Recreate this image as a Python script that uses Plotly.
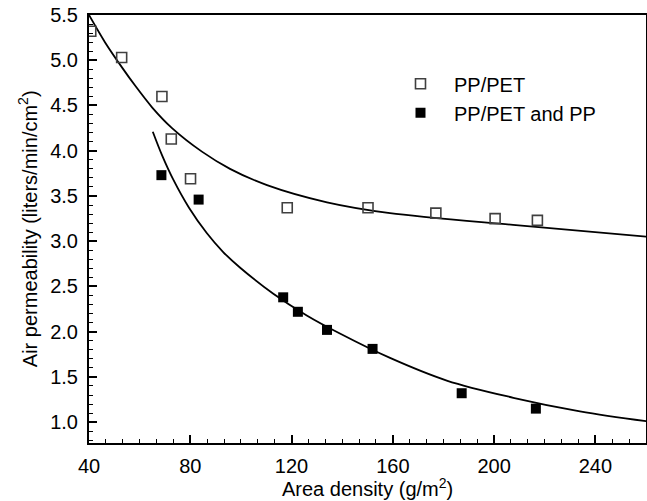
import plotly.graph_objects as go

# Measured points
pp_pet_x = [40.7, 52.9, 68.8, 72.5, 80.1, 118.3, 150.2, 177.0, 200.4, 217.1]
pp_pet_y = [5.32, 5.03, 4.60, 4.13, 3.69, 3.37, 3.37, 3.31, 3.25, 3.23]

pp_pet_pp_x = [68.6, 83.3, 116.7, 122.5, 134.0, 152.0, 187.2, 216.5]
pp_pet_pp_y = [3.73, 3.46, 2.38, 2.22, 2.02, 1.81, 1.32, 1.15]

# Fit curves
fit1_x = [40.0, 46.3, 53.3, 58.2, 64.9, 72.8, 84.6, 95.7, 110.3, 134.0, 158.9, 207.5, 260.4]
fit1_y = [5.50, 5.20, 4.91, 4.72, 4.48, 4.25, 3.99, 3.80, 3.62, 3.43, 3.31, 3.18, 3.05]

fit2_x = [65.2, 69.0, 73.3, 79.5, 86.5, 93.0, 99.6, 112.8, 126.0, 139.1, 158.9, 181.3, 207.6, 233.9, 260.3]
fit2_y = [4.21, 3.94, 3.68, 3.37, 3.09, 2.88, 2.71, 2.42, 2.18, 1.98, 1.71, 1.46, 1.27, 1.12, 1.01]

x_ticks = [40, 80, 120, 160, 200, 240]
y_ticks = [1.0, 1.5, 2.0, 2.5, 3.0, 3.5, 4.0, 4.5, 5.0, 5.5]

FONT = "Liberation Sans, Arial, sans-serif"
FS = 20

fig = go.Figure()
fig.add_trace(go.Scatter(x=fit1_x, y=fit1_y, mode="lines", line=dict(color="black", width=1.8, shape="spline", smoothing=0.8),
                         showlegend=False, hoverinfo="skip"))
fig.add_trace(go.Scatter(x=fit2_x, y=fit2_y, mode="lines", line=dict(color="black", width=1.8, shape="spline", smoothing=1.0),
                         showlegend=False, hoverinfo="skip"))
fig.add_trace(go.Scatter(x=pp_pet_x, y=pp_pet_y, mode="markers", name="PP/PET", legendgroup="a",
                         marker=dict(symbol="square-open", size=10, color="#404040", line=dict(width=1.6, color="#404040"))))
fig.add_trace(go.Scatter(x=pp_pet_pp_x, y=pp_pet_pp_y, mode="markers", name="PP/PET and PP", legendgroup="b",
                         marker=dict(symbol="square", size=10, color="black")))

fig.update_layout(
    width=647, height=501,
    margin=dict(l=89, r=1, t=15, b=58),
    paper_bgcolor="white", plot_bgcolor="white",
    font=dict(family=FONT, size=FS, color="black"),
    legend=dict(x=0.535, y=0.885, xanchor="left", yanchor="top", bgcolor="rgba(0,0,0,0)",
                font=dict(size=FS), tracegroupgap=0, traceorder="grouped", itemwidth=57),
    xaxis=dict(range=[40, 260], tickvals=x_ticks, ticks="inside", ticklen=8, tickwidth=1.5, tickcolor="black",
               showline=True, linecolor="black", linewidth=2, mirror=True, showgrid=False, zeroline=False,
               automargin=False, ticklabelstandoff=4,
               minor=dict(ticks="inside", dtick=40/6, tick0=40, ticklen=4, tickwidth=1.2, tickcolor="black")),
    yaxis=dict(range=[0.77, 5.5], tickvals=y_ticks, tickformat=".1f", ticks="inside", ticklen=8, tickwidth=1.5, tickcolor="black",
               showline=True, linecolor="black", linewidth=2, mirror=True, showgrid=False, zeroline=False,
               automargin=False, ticklabelstandoff=5,
               minor=dict(ticks="inside", dtick=0.1, tick0=1.0, ticklen=4, tickwidth=1.2, tickcolor="black")),
    annotations=[
        dict(text="Area density (g/m<sup>2</sup>)", xref="paper", yref="paper", x=0.5, y=-0.105,
             xanchor="center", yanchor="middle", showarrow=False, font=dict(size=FS)),
        dict(text="Air permeability (liters/min/cm<sup>2</sup>)", xref="paper", yref="paper", x=-0.111, y=0.5,
             xanchor="center", yanchor="middle", textangle=-90, showarrow=False, font=dict(size=FS)),
    ],
)

fig.write_html("out.html", config={"displayModeBar": False},
               post_script="document.body.style.margin='0';document.body.style.overflow='hidden';")
